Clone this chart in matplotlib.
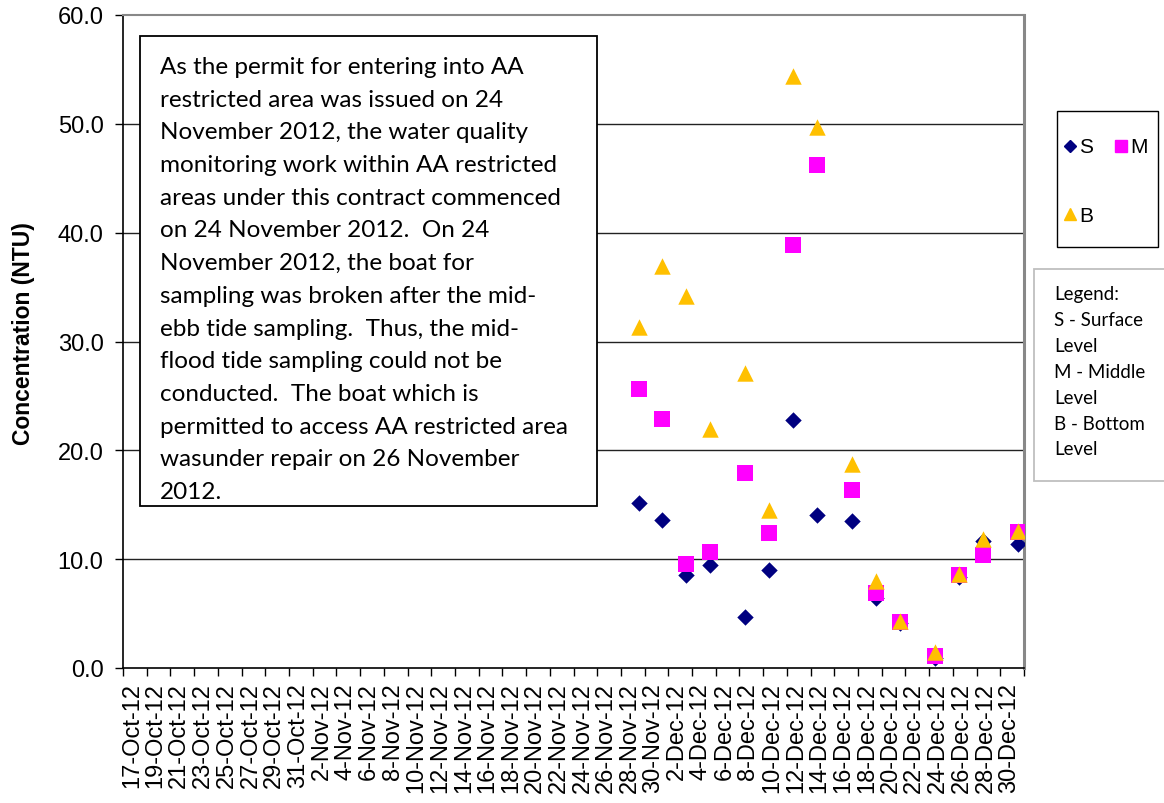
#!/usr/bin/env python3
"""
Turbidity at the AA restricted area monitoring station, Oct-Dec 2012.
Scatter of surface / middle / bottom readings with the permit note box.
"""

from datetime import date, timedelta

import matplotlib
matplotlib.use("Agg")
import matplotlib.pyplot as plt
import matplotlib.dates as mdates
from matplotlib.lines import Line2D
from matplotlib.patches import Rectangle

W, H = 1164, 804

sample_dates = ["2012-11-29", "2012-12-01", "2012-12-03", "2012-12-05", "2012-12-08",
                "2012-12-10", "2012-12-12", "2012-12-14", "2012-12-17", "2012-12-19",
                "2012-12-21", "2012-12-24", "2012-12-26", "2012-12-28", "2012-12-31"]
surface = [15.2, 13.6, 8.5, 9.5, 4.7, 9.0, 22.8, 14.1, 13.5, 6.4, 4.1, 0.9, 8.4, 11.7, 11.4]
middle = [25.6, 22.9, 9.6, 10.7, 17.9, 12.4, 38.9, 46.2, 16.4, 6.9, 4.25, 1.1, 8.5, 10.4, 12.5]
bottom = [31.3, 36.9, 34.2, 22.0, 27.1, 14.5, 54.4, 49.7, 18.7, 8.0, 4.35, 1.5, 8.6, 11.85, 12.6]

axis_start = date(2012, 10, 17)
axis_end = date(2012, 12, 31)
y_ticks = [0, 10, 20, 30, 40, 50, 60]

note_lines = [
    "As the permit for entering into AA",
    "restricted area was issued on 24",
    "November 2012, the water quality",
    "monitoring work within AA restricted",
    "areas under this contract commenced",
    "on 24 November 2012.  On 24",
    "November 2012, the boat for",
    "sampling was broken after the mid-",
    "ebb tide sampling.  Thus, the mid-",
    "flood tide sampling could not be",
    "conducted.  The boat which is",
    "permitted to access AA restricted area",
    "wasunder repair on 26 November",
    "2012.",
]
legend_note = ["Legend:", "S - Surface", "Level", "M - Middle", "Level", "B - Bottom", "Level"]

C_S, C_M, C_B = "#000080", "#FF00FF", "#FFC000"
ARIAL = "Liberation Sans"
CALIBRI = "Lato"


def fx(px):
    return px / W


def fy(py):
    return 1 - py / H


fig = plt.figure(figsize=(W / 100, H / 100), dpi=100)
ax = fig.add_axes([fx(123), fy(669), (1024 - 123) / W, (669 - 16) / H])

x = mdates.date2num([date.fromisoformat(d) for d in sample_dates])
ax.scatter(x, surface, marker="D", s=70, color=C_S, zorder=3, linewidths=0)
ax.scatter(x, middle, marker="s", s=120, color=C_M, zorder=4, linewidths=0)
ax.scatter(x, bottom, marker="^", s=140, color=C_B, zorder=5, linewidths=0)

x0 = mdates.date2num(axis_start) - 0.5
x1 = mdates.date2num(axis_end) + 0.5
ax.set_xlim(x0, x1)
ax.set_ylim(0, 60)

# tick marks on the slot boundaries, labels centred under each 2-day pair
n_days = (axis_end - axis_start).days + 1
ax.set_xticks([x0 + 2 * k for k in range(n_days // 2 + 1)])
ax.set_xticklabels([])
label_days = [axis_start + timedelta(days=2 * k) for k in range(n_days // 2)]
ax.set_xticks([mdates.date2num(d) + 0.25 for d in label_days], minor=True)
ax.set_xticklabels([f"{d.day}-{d.strftime('%b')}-12" for d in label_days], minor=True,
                   rotation=90, fontsize=17, family=ARIAL)
ax.tick_params(axis="x", which="major", direction="out", length=6, width=1)
ax.tick_params(axis="x", which="minor", length=0, pad=10)

ax.set_yticks(y_ticks)
ax.set_yticklabels([f"{v:.1f}" for v in y_ticks], fontsize=17, family=ARIAL)
ax.tick_params(axis="y", direction="out", length=6, width=1, pad=8)

for v in y_ticks[1:-1]:
    ax.axhline(v, color="#222222", lw=1, zorder=1)

for side in ("left", "bottom"):
    ax.spines[side].set_color("black")
    ax.spines[side].set_linewidth(1.2)
ax.spines["top"].set_color("#888888")
ax.spines["top"].set_linewidth(1.5)
ax.spines["right"].set_color("#888888")
ax.spines["right"].set_linewidth(2.2)

fig.text(fx(24), fy(334), "Concentration (NTU)", rotation=90, fontsize=16.5,
         fontweight="bold", family=ARIAL, ha="center", va="center")

# note box over the empty part of the plot
fig.patches.append(Rectangle((fx(140), fy(507)), (597 - 140) / W, (507 - 37) / H,
                             transform=fig.transFigure, facecolor="white",
                             edgecolor="black", lw=1.3, zorder=6))
for i, line in enumerate(note_lines):
    fig.text(fx(160), fy(74 + 32.7 * i), line, fontsize=17.5, family=CALIBRI,
             ha="left", va="baseline", zorder=7)

# series legend
fig.patches.append(Rectangle((fx(1057), fy(248)), (1158 - 1057) / W, (248 - 112) / H,
                             transform=fig.transFigure, facecolor="white",
                             edgecolor="black", lw=1, zorder=6))
entries = [("S", C_S, "D", 6, 1070, 147), ("M", C_M, "s", 8, 1121, 147), ("B", C_B, "^", 9, 1070, 215)]
for name, col, mk, ms, mx, my in entries:
    fig.add_artist(Line2D([fx(mx)], [fy(my)], marker=mk, markersize=ms, color=col,
                          lw=0, transform=fig.transFigure, zorder=7))
    fig.text(fx(mx + 9), fy(my + 1), name, fontsize=15, family=ARIAL,
             ha="left", va="center", zorder=7)

# text legend
fig.patches.append(Rectangle((fx(1034), fy(482)), (1175 - 1034) / W, (482 - 270) / H,
                             transform=fig.transFigure, facecolor="white",
                             edgecolor="#BFBFBF", lw=1.3, zorder=6))
for i, line in enumerate(legend_note):
    fig.text(fx(1054), fy(300 + 25.9 * i), line, fontsize=13.5, family=CALIBRI,
             ha="left", va="baseline", zorder=7)

fig.savefig("out.png", dpi=100)
